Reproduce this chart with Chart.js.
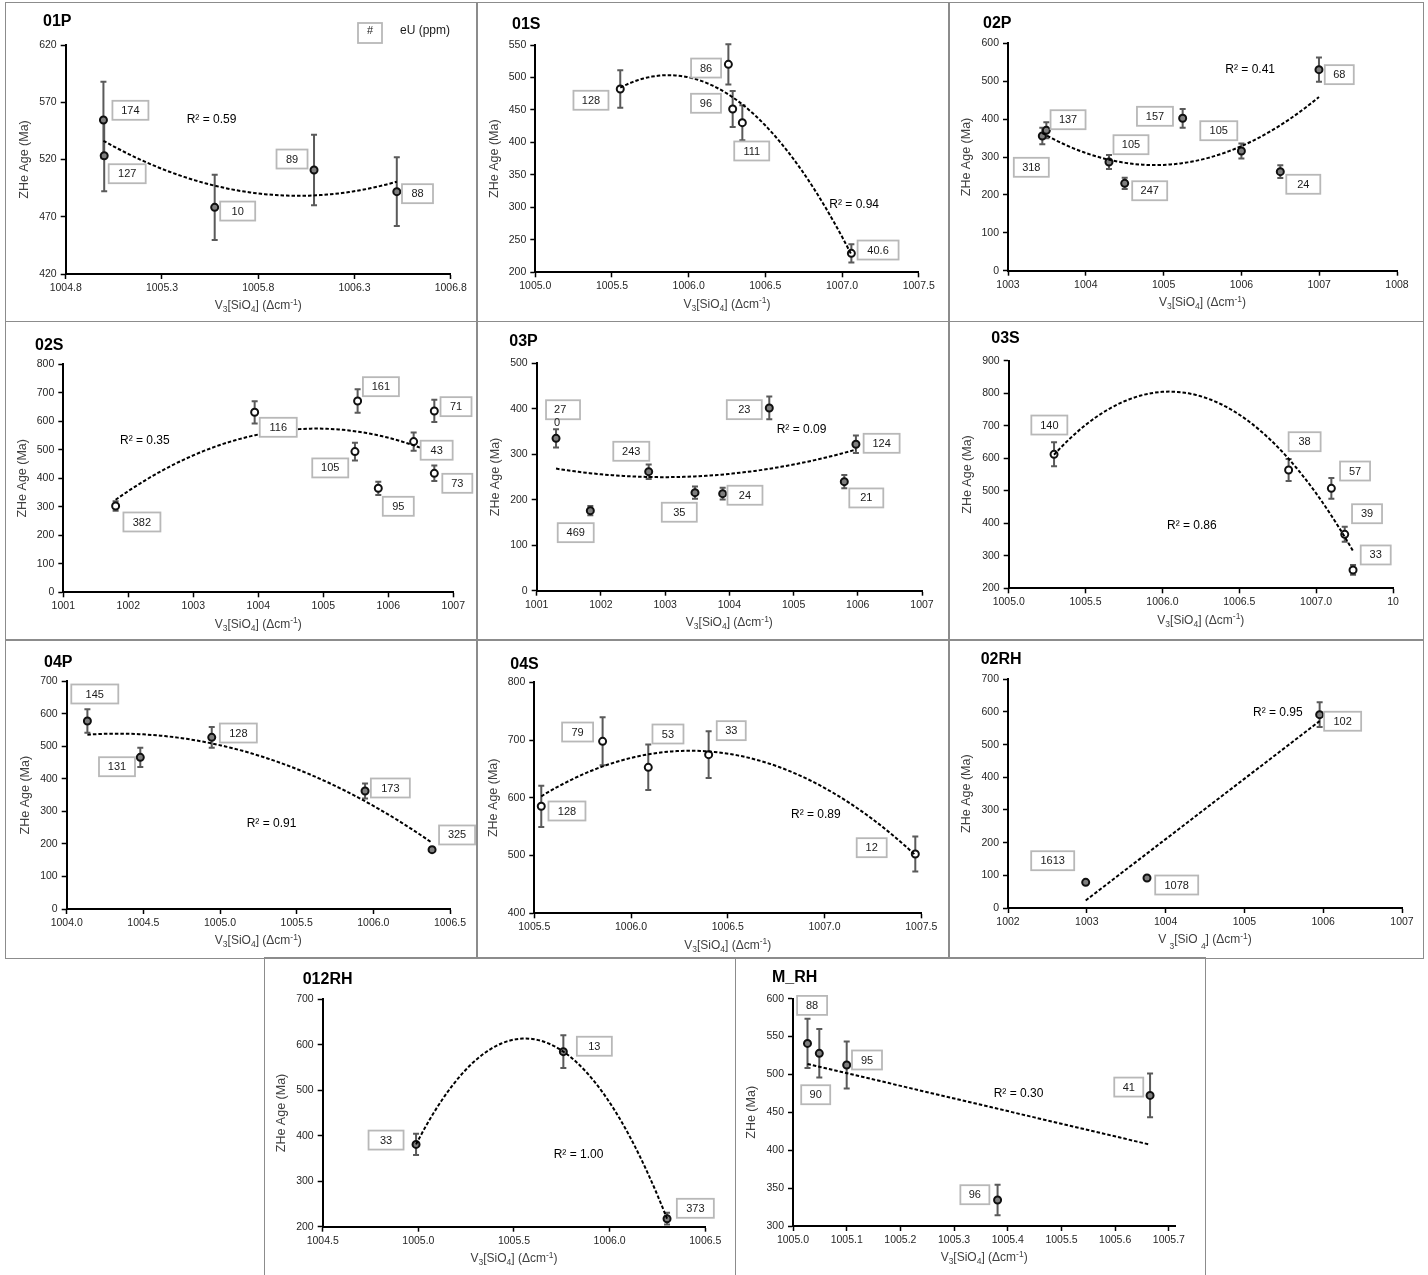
<!doctype html>
<html lang="en">
  <head>
    <meta charset="UTF-8" />
    <title>ZHe age vs v3[SiO4]</title>
    <style>
      body { margin: 0; background: #fff; width: 1428px; height: 1275px; position: relative; overflow: hidden; }
      canvas { position: absolute; }
      .frame { position: absolute; border: 1.5px solid #8c8c8c; box-sizing: border-box; pointer-events: none; }
    </style>
  </head>

  <body>
    <script src="https://cdn.jsdelivr.net/npm/chart.js@4"></script>

    <script>
      // v3[SiO4] band position (cm-1), ZHe age (Ma), 1 sigma error (Ma), eU (ppm)
      const p01P_v3 = [1004.996, 1005.0, 1005.574, 1006.09, 1006.52]
      const p01P_age = [554.5, 523.3, 478.2, 510.8, 491.9]
      const p01P_err = [33.5, 31, 28.5, 30.8, 30]
      const p01P_eU = [174, 127, 10, 89, 88]

      const p01S_v3 = [1005.554, 1006.259, 1006.287, 1006.35, 1007.061]
      const p01S_age = [482.3, 520.2, 451.5, 430.4, 229.2]
      const p01S_err = [29, 31, 27.7, 27, 14]
      const p01S_eU = [128, 86, 96, 111, 40.6]

      const p02P_v3 = [1003.441, 1003.493, 1004.298, 1004.5, 1005.245, 1006.0, 1006.5, 1006.997]
      const p02P_age = [355.4, 370.4, 286.8, 230.5, 402.1, 315.8, 261.3, 530.5]
      const p02P_err = [22, 21, 18.5, 15, 24.6, 19.8, 17, 32]
      const p02P_eU = [318, 137, 105, 247, 157, 105, 24, 68]

      const p02S_v3 = [1001.805, 1003.944, 1005.487, 1005.528, 1005.846, 1006.39, 1006.708, 1006.708]
      const p02S_age = [302.9, 631.6, 493.6, 671.3, 364.9, 528.7, 636.3, 417.5]
      const p02S_err = [17, 39, 31, 41, 23.4, 32, 39, 27]
      const p02S_eU = [382, 116, 105, 161, 95, 43, 71, 73]

      const p03P_v3 = [1001.301, 1001.835, 1002.744, 1003.465, 1003.896, 1004.622, 1005.79, 1005.971]
      const p03P_age = [335, 176, 261.7, 215.6, 213.4, 401.8, 239.8, 321.9]
      const p03P_err = [20, 10, 16, 13.5, 13, 25, 14.7, 19.4]
      const p03P_eU = [270, 469, 243, 35, 24, 23, 21, 124]

      const p03S_v3 = [1005.295, 1006.821, 1007.099, 1007.186, 1007.24]
      const p03S_age = [612, 563.8, 507.5, 366, 256.4]
      const p03S_err = [37, 34, 32, 23, 15]
      const p03S_eU = [140, 38, 57, 39, 33]

      const p04P_v3 = [1004.135, 1004.48, 1004.946, 1005.946, 1006.383]
      const p04P_age = [578, 466.3, 527.8, 362.8, 182.4]
      const p04P_err = [36, 29.5, 32, 23, 7]
      const p04P_eU = [145, 131, 128, 173, 325]

      const p04S_v3 = [1005.536, 1005.853, 1006.089, 1006.401, 1007.469]
      const p04S_age = [585.3, 697.8, 652.8, 674.7, 502.7]
      const p04S_err = [35.7, 41.5, 39.5, 40.5, 30.3]
      const p04S_eU = [128, 79, 53, 33, 12]

      const p02RH_v3 = [1002.986, 1003.764, 1005.955]
      const p02RH_age = [78.6, 91.8, 591.8]
      const p02RH_err = [4, 4, 38]
      const p02RH_eU = [1613, 1078, 102]

      const p012RH_v3 = [1004.988, 1005.758, 1006.3]
      const p012RH_age = [381, 584.9, 217.6]
      const p012RH_err = [23.5, 36, 13]
      const p012RH_eU = [33, 13, 373]

      const pMRH_v3 = [1005.027, 1005.049, 1005.1, 1005.381, 1005.665]
      const pMRH_age = [541, 527.9, 512.5, 334.3, 472.4]
      const pMRH_err = [32.5, 32, 31, 20, 29]
      const pMRH_eU = [88, 90, 95, 96, 41]

      // x axis ticks
      const ticks01P = [1004.8, 1005.3, 1005.8, 1006.3, 1006.8]
      const ticks01S = [1005.0, 1005.5, 1006.0, 1006.5, 1007.0, 1007.5]
      const ticks02P = [1003, 1004, 1005, 1006, 1007, 1008]
      const ticks02S = [1001, 1002, 1003, 1004, 1005, 1006, 1007]
      const ticks03P = [1001, 1002, 1003, 1004, 1005, 1006, 1007]
      const ticks03S = [1005.0, 1005.5, 1006.0, 1006.5, 1007.0, 1007.5]
      const labels03S = ['1005.0', '1005.5', '1006.0', '1006.5', '1007.0', '10']
      const ticks04P = [1004.0, 1004.5, 1005.0, 1005.5, 1006.0, 1006.5]
      const ticks04S = [1005.5, 1006.0, 1006.5, 1007.0, 1007.5]
      const ticks02RH = [1002, 1003, 1004, 1005, 1006, 1007]
      const ticks012RH = [1004.5, 1005.0, 1005.5, 1006.0, 1006.5]
      const ticksMRH = [1005.0, 1005.1, 1005.2, 1005.3, 1005.4, 1005.5, 1005.6, 1005.7]

      const FONT = '"Liberation Sans", Arial, sans-serif'
      const YW = 44
      const XH = 34
      const X_TITLE = [['V', 0], ['3', 1], ['[SiO', 0], ['4', 1], ['] (\u0394cm', 0], ['-1', -1], [')', 0]]
      const X_TITLE_GAPPED = [['V ', 0], ['3', 2], ['[SiO ', 0], ['4', 2], ['] (\u0394cm', 0], ['-1', -1], [')', 0]]

      // frame: [left, top, width, height]; area: plot rectangle [l, t, r, b]
      // tags: label box offset from its point [dx, dy, width, wrapAfter]
      const panels = [
        { name: '01P', v3: p01P_v3, age: p01P_age, err: p01P_err, eU: p01P_eU, open: false, order: 2, r2: '0.59',
          frame: [5, 2, 472, 320], area: [65.7, 45, 450.7, 274], x: [1004.8, 1006.8], xTicks: ticks01P, xDec: 1,
          y: [420, 620, 50], titleAt: [43, 21.7], r2At: [186.7, 119.7], legend: true,
          tags: [[27, -9.7, 36], [23, 18, 37], [23, 3.7, 35], [-22, -11, 31], [20.7, 2, 31]] },
        { name: '01S', v3: p01S_v3, age: p01S_age, err: p01S_err, eU: p01S_eU, open: true, order: 2, r2: '0.94',
          frame: [477, 2, 472, 320], area: [535.3, 45, 918.7, 272.3], x: [1005, 1007.5], xTicks: ticks01S, xDec: 1,
          y: [200, 550, 50], titleAt: [512, 25], r2At: [829.3, 205],
          tags: [[-29.3, 11.3, 35], [-22.3, 3.7, 30], [-26.7, -5.7, 30], [9.4, 28.3, 35], [26.7, -3.3, 41]] },
        { name: '02P', v3: p02P_v3, age: p02P_age, err: p02P_err, eU: p02P_eU, open: false, order: 2, r2: '0.41',
          frame: [949, 2, 475, 320], area: [1008, 43.3, 1397, 270.7], x: [1003, 1008], xTicks: ticks02P, xDec: 0,
          y: [0, 600, 100], titleAt: [983, 23.3], r2At: [1225.3, 69.7],
          tags: [[-11, 31.3, 35], [21.7, -10.6, 35], [22, -17.3, 35], [25, 7.4, 35], [-27.7, -2, 36], [-22.6, -20.3, 37], [23, 12.6, 34], [20.3, 5, 29]] },
        { name: '02S', v3: p02S_v3, age: p02S_age, err: p02S_err, eU: p02S_eU, open: true, order: 2, r2: '0.35',
          frame: [5, 321, 472, 320], area: [63.3, 364.3, 453.3, 592.3], x: [1001, 1007], xTicks: ticks02S, xDec: 0,
          y: [0, 800, 100], titleAt: [35, 345.5], r2At: [120, 440.3],
          tags: [[26.3, 16, 37], [23.6, 15, 37], [-24.7, 16.3, 36], [23.3, -14.3, 36], [20, 18, 31], [23, 8.6, 32], [21.7, -4.3, 31], [23, 10, 30]] },
        { name: '03P', v3: p03P_v3, age: p03P_age, err: p03P_err, eU: p03P_eU, open: false, order: 2, r2: '0.09',
          frame: [477, 321, 472, 320], area: [536.7, 363.3, 922, 590.7], x: [1001, 1007], xTicks: ticks03P, xDec: 0,
          y: [0, 500, 100], titleAt: [509.3, 341.7], r2At: [776.7, 430],
          tags: [[7, -28.6, 34, 2], [-14.6, 22, 36], [-17.4, -20.4, 36], [-15.7, 19.6, 35], [22.3, 1.6, 35], [-25, 1.7, 35], [22, 16.3, 34], [25.7, -1, 36]] },
        { name: '03S', v3: p03S_v3, age: p03S_age, err: p03S_err, eU: p03S_eU, open: true, order: 2, r2: '0.86',
          frame: [949, 321, 475, 320], area: [1008.7, 360.7, 1393, 588.3], x: [1005, 1007.5], xTicks: ticks03S, xLabels: labels03S, xDec: 1,
          y: [200, 900, 100], titleAt: [991.3, 338.7], r2At: [1167, 525.3],
          tags: [[-4.7, -29.3, 36], [16, -28.3, 32], [23.7, -17.3, 30], [22.3, -20.6, 30], [22.7, -15, 30]] },
        { name: '04P', v3: p04P_v3, age: p04P_age, err: p04P_err, eU: p04P_eU, open: false, order: 2, r2: '0.91',
          frame: [5, 639, 472, 320], area: [66.7, 681.3, 450, 909], x: [1004, 1006.5], xTicks: ticks04P, xDec: 1,
          y: [0, 700, 100], titleAt: [44, 662.2], r2At: [246.7, 823.3],
          tags: [[7.4, -27, 47], [-23.3, 9.4, 36], [26.6, -4.3, 37], [25.3, -3, 39], [25, -14.7, 36]] },
        { name: '04S', v3: p04S_v3, age: p04S_age, err: p04S_err, eU: p04S_eU, open: true, order: 2, r2: '0.89',
          frame: [477, 639, 472, 320], area: [534.3, 682.3, 921.3, 913.3], x: [1005.5, 1007.5], xTicks: ticks04S, xDec: 1,
          y: [400, 800, 100], titleAt: [510.3, 664.3], r2At: [791, 814.3],
          tags: [[25.7, 4.7, 37], [-25, -9.3, 31], [19.7, -33.3, 31], [22.6, -24, 29], [-43.6, -6.3, 30]] },
        { name: '02RH', v3: p02RH_v3, age: p02RH_age, err: p02RH_err, eU: p02RH_eU, open: false, order: 1, r2: '0.95',
          frame: [949, 639, 475, 320], area: [1008, 679.3, 1402, 908], x: [1002, 1007], xTicks: ticks02RH, xDec: 0,
          y: [0, 700, 100], titleAt: [980.7, 659.7], r2At: [1253, 712.7], gapped: true,
          tags: [[-33, -21.6, 43], [29.7, 7, 43], [23, 6.6, 37]] },
        { name: '012RH', v3: p012RH_v3, age: p012RH_age, err: p012RH_err, eU: p012RH_eU, open: false, order: 2, r2: '1.00',
          frame: [264, 957, 472, 320], area: [322.7, 999.3, 705.3, 1226.7], x: [1004.5, 1006.5], xTicks: ticks012RH, xDec: 1,
          y: [200, 700, 100], titleAt: [302.7, 979.5], r2At: [553.7, 1154.7],
          tags: [[-30, -4.3, 35], [31, -5.4, 35], [28.3, -10.4, 37]] },
        { name: 'M_RH', v3: pMRH_v3, age: pMRH_age, err: pMRH_err, eU: pMRH_eU, open: false, order: 1, r2: '0.30',
          frame: [735, 957, 471, 320], area: [793, 998.7, 1175.3, 1226], x: [1005, 1005.712], xTicks: ticksMRH, xDec: 1,
          y: [300, 600, 50], titleAt: [772, 977.7], r2At: [993.7, 1093.7], yTitle: 'ZHe (Ma)',
          tags: [[4.6, -38, 30], [-3.6, 41.4, 29], [20.3, -5, 30], [-22.7, -5.3, 29], [-21.3, -8.3, 29]] },
      ]

      // least squares polynomial trendline, x centred for stability
      function polyFit(xv, yv, order) {
        const m = xv.reduce((a, b) => a + b, 0) / xv.length
        const n = order + 1
        const A = Array.from({ length: n }, () => new Array(n + 1).fill(0))
        xv.forEach((x, i) => {
          const u = x - m
          for (let r = 0; r < n; r++) {
            for (let c = 0; c < n; c++) A[r][c] += Math.pow(u, r + c)
            A[r][n] += yv[i] * Math.pow(u, r)
          }
        })
        for (let k = 0; k < n; k++) {
          let piv = k
          for (let r = k + 1; r < n; r++) if (Math.abs(A[r][k]) > Math.abs(A[piv][k])) piv = r
          const tmp = A[k]
          A[k] = A[piv]
          A[piv] = tmp
          for (let r = k + 1; r < n; r++) {
            const f = A[r][k] / A[k][k]
            for (let c = k; c <= n; c++) A[r][c] -= f * A[k][c]
          }
        }
        const coef = new Array(n).fill(0)
        for (let k = n - 1; k >= 0; k--) {
          let s = A[k][n]
          for (let c = k + 1; c < n; c++) s -= A[k][c] * coef[c]
          coef[k] = s / A[k][k]
        }
        return (x) => coef.reduce((s, c, j) => s + c * Math.pow(x - m, j), 0)
      }

      function drawXTitle(ctx, parts, cx, cy) {
        const big = `12px ${FONT}`
        const small = `8.5px ${FONT}`
        let width = 0
        parts.forEach(([t, k]) => {
          ctx.font = k ? small : big
          width += ctx.measureText(t).width
        })
        let x = cx - width / 2
        ctx.textAlign = 'left'
        ctx.textBaseline = 'alphabetic'
        parts.forEach(([t, k]) => {
          ctx.font = k ? small : big
          const dy = k === 1 ? 3 : k === 2 ? 5.5 : k === -1 ? -4.5 : 0
          ctx.fillText(t, x, cy + 4.3 + dy)
          x += ctx.measureText(t).width
        })
      }

      function makeDecor(p) {
        const [fx, fy] = p.frame
        return {
          id: 'decor' + p.name,
          beforeDatasetsDraw(chart) {
            const ctx = chart.ctx
            const xs = chart.scales.x
            const ys = chart.scales.y
            ctx.save()
            ctx.strokeStyle = '#5a5a5a'
            ctx.lineWidth = 2
            p.v3.forEach((v, i) => {
              const px = xs.getPixelForValue(v)
              const top = ys.getPixelForValue(p.age[i] + p.err[i])
              const bot = ys.getPixelForValue(p.age[i] - p.err[i])
              ctx.beginPath()
              ctx.moveTo(px, top)
              ctx.lineTo(px, bot)
              ctx.moveTo(px - 3, top)
              ctx.lineTo(px + 3, top)
              ctx.moveTo(px - 3, bot)
              ctx.lineTo(px + 3, bot)
              ctx.stroke()
            })
            ctx.restore()
          },
          afterDatasetsDraw(chart) {
            const ctx = chart.ctx
            const xs = chart.scales.x
            const ys = chart.scales.y
            const fit = polyFit(p.v3, p.age, p.order)
            const lo = Math.min(...p.v3)
            const hi = Math.max(...p.v3)
            ctx.save()
            ctx.strokeStyle = '#000'
            ctx.lineWidth = 2
            ctx.setLineDash([3.5, 2])
            ctx.beginPath()
            for (let k = 0; k <= 80; k++) {
              const v = lo + ((hi - lo) * k) / 80
              const px = xs.getPixelForValue(v)
              const py = ys.getPixelForValue(fit(v))
              if (k === 0) ctx.moveTo(px, py)
              else ctx.lineTo(px, py)
            }
            ctx.stroke()
            ctx.restore()
          },
          afterDraw(chart) {
            const ctx = chart.ctx
            const xs = chart.scales.x
            const ys = chart.scales.y
            const area = chart.chartArea
            ctx.save()

            // eU label boxes
            p.tags.forEach(([dx, dy, w, wrap], i) => {
              const cx = xs.getPixelForValue(p.v3[i]) + dx
              const cy = ys.getPixelForValue(p.age[i]) + dy
              ctx.fillStyle = '#fff'
              ctx.fillRect(cx - w / 2, cy - 9.5, w, 19)
              ctx.strokeStyle = '#b8b8b8'
              ctx.lineWidth = 1.8
              ctx.strokeRect(cx - w / 2, cy - 9.5, w, 19)
              ctx.fillStyle = '#1a1a1a'
              ctx.font = `11px ${FONT}`
              ctx.textBaseline = 'middle'
              const text = String(p.eU[i])
              if (wrap) {
                ctx.textAlign = 'left'
                ctx.fillText(text.slice(0, wrap), cx - w / 2 + 8, cy + 0.5)
                ctx.fillText(text.slice(wrap), cx - w / 2 + 8, cy + 13.5)
              } else {
                ctx.textAlign = 'center'
                ctx.fillText(text, cx, cy + 0.5)
              }
            })

            // R squared
            ctx.fillStyle = '#000'
            ctx.font = `12px ${FONT}`
            ctx.textAlign = 'left'
            ctx.textBaseline = 'middle'
            ctx.fillText('R\u00b2 = ' + p.r2, p.r2At[0] - fx, p.r2At[1] - fy)

            // panel name
            ctx.font = `bold 16px ${FONT}`
            ctx.fillText(p.name, p.titleAt[0] - fx, p.titleAt[1] - fy)

            // axis titles
            ctx.fillStyle = '#404040'
            ctx.font = `12.5px ${FONT}`
            ctx.save()
            ctx.translate(area.left - 41, (area.top + area.bottom) / 2)
            ctx.rotate(-Math.PI / 2)
            ctx.textAlign = 'center'
            ctx.fillText(p.yTitle || 'ZHe Age (Ma)', 0, 0)
            ctx.restore()
            drawXTitle(ctx, p.gapped ? X_TITLE_GAPPED : X_TITLE, (area.left + area.right) / 2, area.bottom + 31)

            if (p.legend) {
              ctx.fillStyle = '#fff'
              ctx.fillRect(358 - fx, 23 - fy, 24, 20)
              ctx.strokeStyle = '#b8b8b8'
              ctx.lineWidth = 1.8
              ctx.strokeRect(358 - fx, 23 - fy, 24, 20)
              ctx.fillStyle = '#1a1a1a'
              ctx.font = `11px ${FONT}`
              ctx.textAlign = 'center'
              ctx.fillText('#', 370 - fx, 33.5 - fy)
              ctx.font = `12px ${FONT}`
              ctx.textAlign = 'left'
              ctx.fillText('eU (ppm)', 400 - fx, 33.5 - fy)
            }
            ctx.restore()
          },
        }
      }

      panels.forEach((p) => {
        const [fx, fy, fw, fh] = p.frame
        const [l, t, r, b] = p.area

        const canvas = document.createElement('canvas')
        canvas.width = fw
        canvas.height = fh
        canvas.style.left = fx + 'px'
        canvas.style.top = fy + 'px'
        canvas.style.width = fw + 'px'
        canvas.style.height = fh + 'px'
        document.body.appendChild(canvas)

        const frame = document.createElement('div')
        frame.className = 'frame'
        frame.style.left = fx + 'px'
        frame.style.top = fy + 'px'
        frame.style.width = fw + 'px'
        frame.style.height = fh + 'px'
        document.body.appendChild(frame)

        const tickFont = { family: FONT, size: 10.5 }
        const axisGrid = { drawOnChartArea: false, drawTicks: true, tickLength: 5, tickColor: '#000', tickWidth: 1.5 }

        new Chart(canvas, {
          type: 'scatter',
          data: {
            datasets: [
              {
                data: p.v3.map((x, i) => ({ x, y: p.age[i] })),
                pointRadius: 3.5,
                pointHoverRadius: 3.5,
                pointBorderWidth: 2,
                pointBorderColor: '#111',
                pointBackgroundColor: p.open ? '#fff' : '#7f7f7f',
              },
            ],
          },
          options: {
            responsive: false,
            animation: false,
            devicePixelRatio: 1,
            layout: {
              padding: { left: l - fx - YW, top: t - fy, right: fx + fw - r, bottom: fy + fh - b - XH },
            },
            plugins: { legend: { display: false }, tooltip: { enabled: false } },
            scales: {
              x: {
                type: 'linear',
                position: 'bottom',
                min: p.x[0],
                max: p.x[1],
                bounds: 'data',
                afterBuildTicks: (s) => {
                  s.ticks = p.xTicks.map((value) => ({ value }))
                },
                afterFit: (s) => {
                  s.height = XH
                },
                ticks: {
                  autoSkip: false,
                  maxRotation: 0,
                  minRotation: 0,
                  padding: 3,
                  font: tickFont,
                  color: '#262626',
                  callback: (v, i) => (p.xLabels ? p.xLabels[i] : Number(v).toFixed(p.xDec)),
                },
                grid: axisGrid,
                border: { color: '#000', width: 2 },
              },
              y: {
                type: 'linear',
                min: p.y[0],
                max: p.y[1],
                bounds: 'data',
                afterFit: (s) => {
                  s.width = YW
                },
                ticks: { stepSize: p.y[2], padding: 4, font: tickFont, color: '#262626' },
                grid: axisGrid,
                border: { color: '#000', width: 2 },
              },
            },
          },
          plugins: [makeDecor(p)],
        })
      })
    </script>
  </body>
</html>
